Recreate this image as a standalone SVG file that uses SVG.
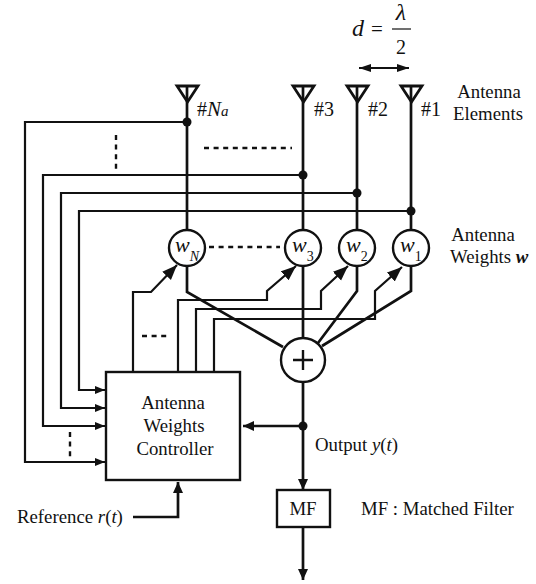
<svg xmlns="http://www.w3.org/2000/svg" width="536" height="584" viewBox="0 0 536 584">
<style>
text{font-family:"Liberation Serif","Times New Roman",serif;font-size:18.800px;fill:#111}
.i{font-style:italic}
.m{text-anchor:middle}
.c{fill:none;stroke:#111;stroke-width:2.200}
.t{stroke-width:2.700}
.d{fill:none;stroke:#111;stroke-width:2.400;stroke-dasharray:5 4.600}
.n{fill:#fff;stroke:#111;stroke-width:2.400}
.a{fill:none;stroke:#111;stroke-width:2.800}
.w{font-size:22px;font-style:italic}
.s{font-size:14px}
</style>
<defs>
<marker id="ar" markerUnits="userSpaceOnUse" markerWidth="12" markerHeight="10" refX="10" refY="4" orient="auto"><path d="M0 0L10 4L0 8Z" fill="#111"/></marker>
<marker id="ab" markerUnits="userSpaceOnUse" markerWidth="16" markerHeight="14" refX="15" refY="6" orient="auto"><path d="M0 0L15 6L0 12Z" fill="#111"/></marker>
<marker id="as" markerUnits="userSpaceOnUse" markerWidth="14" markerHeight="12" refX="12" refY="4" orient="auto-start-reverse"><path d="M0 0L12 4L0 8Z" fill="#111"/></marker>
<marker id="am" markerUnits="userSpaceOnUse" markerWidth="14" markerHeight="12" refX="11" refY="5" orient="auto"><path d="M0 0L11 5L0 10Z" fill="#111"/></marker>
</defs>
<g id="connectors">
<path class="c t" d="M187 86V230M303 86V230M357 86V230M411 86V230"/>
<path class="c t" d="M187 266V292L283 347M303 266V338M357 266V291L318 343M411 266V291L322 346"/>
<path class="c" d="M187 122H25V462H105" marker-end="url(#ar)"/>
<path class="c" d="M303 175H43V426H105" marker-end="url(#ar)"/>
<path class="c" d="M357 193H61V408H105" marker-end="url(#ar)"/>
<path class="c" d="M411 211H79V390H105" marker-end="url(#ar)"/>
<path class="c" d="M133 372V292H151L177 265" marker-end="url(#ab)"/>
<path class="c" d="M178 372V300H267V291L296 266" marker-end="url(#ab)"/>
<path class="c" d="M196 372V309H321V291L348 266" marker-end="url(#ab)"/>
<path class="c" d="M214 372V319H375V291L402 267" marker-end="url(#ab)"/>
<path class="c t" d="M303 382V490" marker-end="url(#am)"/>
<path class="c t" d="M303 426H243" marker-end="url(#am)"/>
<path class="c t" d="M303 527V580" marker-end="url(#am)"/>
<path class="c t" d="M133 517H178V482" marker-end="url(#am)"/>
<path class="c" d="M359 68H409" marker-start="url(#as)" marker-end="url(#as)"/>
<path class="d" d="M204 148H292M209 247H280M142 336H168M116 135V170M70 432V460"/>
<g fill="#111"><circle cx="187" cy="122" r="4.500"/><circle cx="303" cy="175" r="4.500"/><circle cx="357" cy="193" r="4.500"/><circle cx="411" cy="211" r="4.500"/><circle cx="303" cy="426" r="4.500"/></g>
</g>
<g id="ant-na"><path class="a" d="M177 86H198L187.500 102Z"/><text x="197" y="116" style="font-size:20px">#<tspan class="i" style="font-size:21px">N</tspan><tspan class="i" style="font-size:15px">a</tspan></text></g>
<g id="ant-3"><path class="a" d="M293 86H314L303.500 102Z"/><text x="314" y="116" style="font-size:20px">#3</text></g>
<g id="ant-2"><path class="a" d="M347 86H368L357.500 102Z"/><text x="368" y="116" style="font-size:20px">#2</text></g>
<g id="ant-1"><path class="a" d="M401 86H422L411.500 102Z"/><text x="421" y="116" style="font-size:20px">#1</text></g>
<g id="spacing"><text class="i" x="352" y="36" style="font-size:24px">d</text><text x="371" y="36" style="font-size:21px">=</text><text class="i m" x="401" y="20" style="font-size:24px">λ</text><path d="M392 29H411" stroke="#111" stroke-width="1.200"/><text class="m" x="401" y="54" style="font-size:20px">2</text></g>
<g id="labels-right"><text class="m" x="489" y="98">Antenna</text><text class="m" x="488" y="120">Elements</text><text class="m" x="483" y="241">Antenna</text><text x="450" y="263">Weights <tspan class="i" font-weight="bold">w</tspan></text></g>
<g id="w-n"><circle class="n" cx="187" cy="248" r="18"/><text class="w" x="175" y="252">w</text><text class="i s" x="189.700" y="261">N</text></g>
<g id="w-3"><circle class="n" cx="303" cy="248" r="18"/><text class="w" x="292" y="252">w</text><text class="s" x="306.700" y="261">3</text></g>
<g id="w-2"><circle class="n" cx="357" cy="248" r="18"/><text class="w" x="346" y="252">w</text><text class="s" x="360.700" y="261">2</text></g>
<g id="w-1"><circle class="n" cx="411" cy="248" r="18"/><text class="w" x="400" y="252">w</text><text class="s" x="414.700" y="261">1</text></g>
<g id="sum"><circle class="n" cx="303" cy="360" r="22"/><path d="M293 360H313M303 350V370" stroke="#111" stroke-width="2.400"/></g>
<g id="controller"><rect class="n" x="106" y="372" width="134" height="108"/><text class="m" x="173" y="409">Antenna</text><text class="m" x="174" y="432">Weights</text><text class="m" x="175" y="455">Controller</text></g>
<g id="mf"><rect class="n" x="277" y="490" width="53" height="37"/><text class="m" x="303" y="515">MF</text></g>
<g id="labels-bottom"><text x="315" y="451">Output <tspan class="i">y</tspan>(<tspan class="i">t</tspan>)</text><text x="17" y="523">Reference <tspan class="i">r</tspan>(<tspan class="i">t</tspan>)</text><text x="361" y="515">MF : Matched Filter</text></g>
</svg>
